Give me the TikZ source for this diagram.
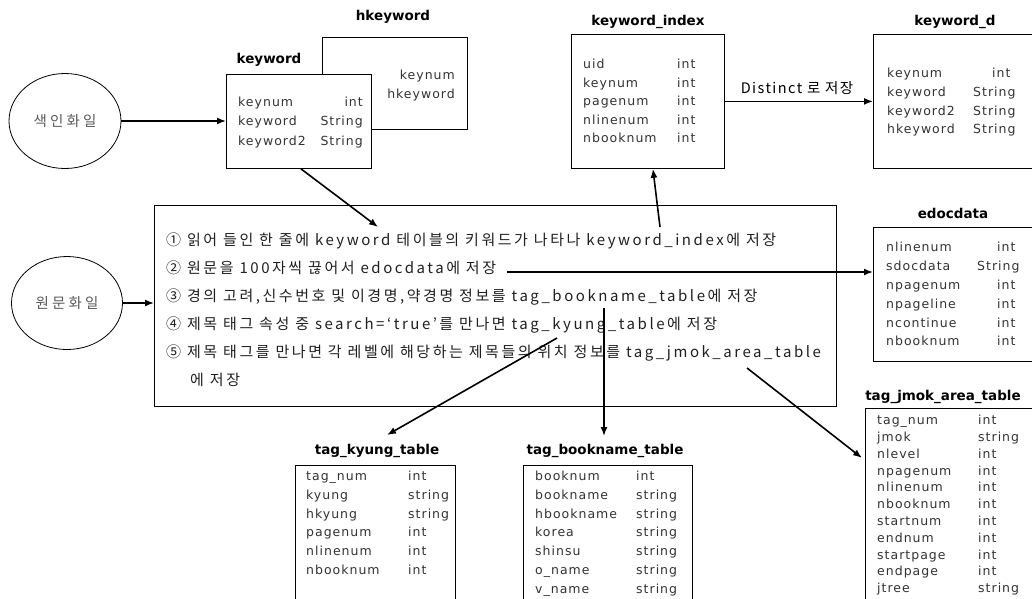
\documentclass[tikz,border=0pt]{standalone}
\usepackage{fontspec}
\setmainfont{DejaVu Sans}
\newfontfamily\krfont[LetterSpace=17]{Noto Sans CJK KR}
\newfontfamily\ovfont[LetterSpace=22]{Noto Sans CJK KR}
\newfontfamily\dlfont[LetterSpace=10]{Noto Sans CJK KR}
\newfontfamily\tblfont[LetterSpace=8]{DejaVu Sans}
\usetikzlibrary{arrows.meta,shapes.geometric}
\tikzset{
 tbox/.style={draw, line width=0.8pt, anchor=north west, inner sep=0pt, fill=white},
 ttl/.style={font=\bfseries\fontsize{13.5}{15}\selectfont, inner sep=0pt},
 fld/.style={font=\tblfont\fontsize{12.5}{14}\selectfont, text=black!80, inner sep=0pt, anchor=mid west},
 fldr/.style={fld, anchor=mid east},
 mtxt/.style={font=\krfont\fontsize{15}{17}\selectfont, text=black!88, inner sep=0pt, anchor=mid west},
 arr/.style={-{Latex[length=9pt,width=7pt]}, line width=1.6pt},
 oval/.style={draw, ellipse, line width=0.8pt, inner sep=0pt, font=\ovfont\fontsize{14.5}{16}\selectfont, text=black!65},
}
\begin{document}
\begin{tikzpicture}[x=1pt,y=-1pt]
\useasboundingbox (0,0) rectangle (1032,598);
\begin{scope}
\clip (0,0) rectangle (1032,598);
% ellipses
\node[oval, minimum width=112pt, minimum height=95pt] (e1) at (65,121) {색인화일};
\node[oval, minimum width=111pt, minimum height=93pt] (e2) at (67,303) {원문화일};

% hkeyword / keyword
\node[ttl] (hkwT) at (393,17) {hkeyword};
\node[tbox, minimum width=145pt, minimum height=92pt] (hkw) at (322,37) {};
\node[fldr] (hkw1) at (455,77) {keynum};
\node[fldr] (hkw2) at (455,96) {hkeyword};
\node[ttl] (kwT) at (269,60) {keyword};
\node[tbox, minimum width=145pt, minimum height=94pt] (kw) at (226,74) {};
\foreach \n/\t/\y [count=\i] in {keynum/int/104, keyword/String/123, keyword2/String/143}{
 \node[fld] (kwn\i) at (238,\y) {\n};
 \node[fldr] (kwt\i) at (363,\y) {\t};
}

% keyword_index
\node[ttl] (kwiT) at (648,22) {keyword\_index};
\node[tbox, minimum width=153pt, minimum height=134pt] (kwi) at (571,34) {};
\foreach \n/\y [count=\i] in {uid/66, keynum/85, pagenum/103, nlinenum/122, nbooknum/140}{
 \node[fld] (kwin\i) at (583,\y) {\n};
 \node[fld] (kwit\i) at (677,\y) {int};
}

% keyword_d
\node[ttl] (kwdT) at (955,22) {keyword\_d};
\node[tbox, minimum width=190pt, minimum height=134pt] (kwd) at (873,34) {};
\node[fld] (kwdn1) at (887,75) {keynum};
\node[fld] (kwdt1) at (992,75) {int};
\foreach \n/\y [count=\i from 2] in {keyword/94, keyword2/113, hkeyword/131}{
 \node[fld] (kwdn\i) at (887,\y) {\n};
 \node[fld] (kwdt\i) at (973,\y) {String};
}

% middle box
\node[tbox, fill=none, minimum width=682pt, minimum height=201pt] (mid) at (154,205) {};
\node[mtxt] (l1) at (166,243) {① 읽어 들인 한 줄에 keyword 테이블의 키워드가 나타나 keyword\_index에 저장};
\node[mtxt] (l2) at (166,271) {② 원문을 100자씩 끊어서 edocdata에 저장};
\node[mtxt] (l3) at (166,299) {③ 경의 고려,신수번호 및 이경명,약경명 정보를 tag\_bookname\_table에 저장};
\node[mtxt] (l4) at (166,327) {④ 제목 태그 속성 중 search=‘true’를 만나면 tag\_kyung\_table에 저장};
\node[mtxt] (l5) at (166,355) {⑤ 제목 태그를 만나면 각 레벨에 해당하는 제목들의 위치 정보를 tag\_jmok\_area\_table};
\node[mtxt] (l6) at (190,383) {에 저장};

% edocdata
\node[ttl] (edT) at (953,213) {edocdata};
\node[tbox, minimum width=190pt, minimum height=134pt] (ed) at (873,227) {};
\foreach \n/\t/\x/\y [count=\i] in {nlinenum/int/997/249, sdocdata/String/977/268, npagenum/int/997/287, npageline/int/997/306, ncontinue/int/997/325, nbooknum/int/997/343}{
 \node[fld] (edn\i) at (886,\y) {\n};
 \node[fld] (edt\i) at (\x,\y) {\t};
}

% tag_kyung_table
\node[ttl] (tkT) at (377,451) {tag\_kyung\_table};
\node[tbox, minimum width=160pt, minimum height=160pt] (tk) at (295,465) {};
\foreach \n/\t/\y [count=\i] in {tag\_num/int/478, kyung/string/497, hkyung/string/516, pagenum/int/534, nlinenum/int/553, nbooknum/int/572}{
 \node[fld] (tkn\i) at (306,\y) {\n};
 \node[fld] (tkt\i) at (408,\y) {\t};
}

% tag_bookname_table
\node[ttl] (tbT) at (605,451) {tag\_bookname\_table};
\node[tbox, minimum width=169pt, minimum height=160pt] (tb) at (523,465) {};
\foreach \n/\t/\y [count=\i] in {booknum/int/478, bookname/string/497, hbookname/string/516, korea/string/534, shinsu/string/553, o\_name/string/572, v\_name/string/591}{
 \node[fld] (tbn\i) at (535,\y) {\n};
 \node[fld] (tbt\i) at (636,\y) {\t};
}

% tag_jmok_area_table
\node[ttl] (tjT) at (943,397) {tag\_jmok\_area\_table};
\node[tbox, minimum width=190pt, minimum height=220pt] (tj) at (865,408) {};
\foreach \n/\t [count=\i] in {tag\_num/int, jmok/string, nlevel/int, npagenum/int, nlinenum/int, nbooknum/int, startnum/int, endnum/int, startpage/int, endpage/int, jtree/string}{
 \node[fld] (tjn\i) at (877,{422+(\i-1)*16.8}) {\n};
 \node[fld] (tjt\i) at (978,{422+(\i-1)*16.8}) {\t};
}

% connectors
\draw[arr] (e1.east) -- (e1.east -| kw.west);
\draw[arr] (e2.east) -- (e2.east -| mid.west);
\coordinate (c1) at (378,227);
\draw[arr] ([xshift=2pt]kw.south) -- (c1);
\coordinate (c2) at (660,227);
\draw[arr] (c2) -- ([xshift=5pt]kwi.south);
\draw[arr] (kwi.east) -- (kwi.east -| kwd.west);
\node[font=\dlfont\fontsize{14.5}{16}\selectfont, inner sep=0pt] (dl) at (797,88) {Distinct 로 저장};
\coordinate (c4) at (507,272);
\draw[arr] (c4) -- (c4 -| ed.west);
\coordinate (c5) at (604,308);
\coordinate (t5) at (604,436);
\draw[arr] (c5) -- (t5);
\coordinate (c6) at (557,338);
\coordinate (t6) at (387,435);
\draw[arr] (c6) -- (t6);
\coordinate (c7) at (747,368);
\coordinate (t7) at (862,458);
\draw[arr] (c7) -- (t7);
\end{scope}
\end{tikzpicture}
\end{document}
